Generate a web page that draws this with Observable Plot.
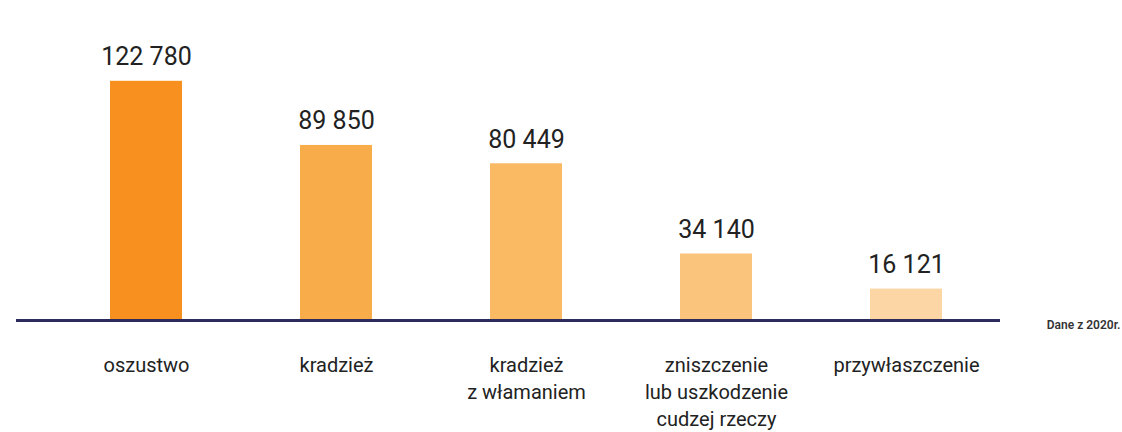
<!DOCTYPE html>
<html>
<head>
<meta charset="utf-8">
<script src="https://cdn.jsdelivr.net/npm/d3@7"></script>
<script src="https://cdn.jsdelivr.net/npm/@observablehq/plot@0.6"></script>
<style>
  html, body { margin: 0; padding: 0; background: #fff; }
  #chart svg { display: block; }
</style>
</head>
<body>
<div id="chart"></div>
<script>
const categories = ["oszustwo", "kradzież", "kradzież\nz włamaniem", "zniszczenie\nlub uszkodzenie\ncudzej rzeczy", "przywłaszczenie"];
const values = [122780, 89850, 80449, 34140, 16121];
const colors = ["#F7901E", "#F9AC4A", "#FAB963", "#FBC47D", "#FCD6A4"];
const note = "Dane z 2020r.";

const data = categories.map((c, i) => ({category: c, value: values[i], color: colors[i]}));
const fmt = v => d3.format(",")(v).replace(/,/g, " ");
const font = "Roboto, 'Open Sans', sans-serif";

const chart = Plot.plot({
  width: 1122,
  height: 432,
  marginTop: 57,
  marginBottom: 112,
  marginLeft: 16,
  marginRight: 122,
  style: {fontFamily: font, background: "#fff", overflow: "visible"},
  x: {domain: categories, range: [49.75, 1002.25], paddingInner: 0.622, paddingOuter: 0.311, axis: null},
  y: {domain: [0, 135000], axis: null},
  marks: [
    Plot.barY(data, {x: "category", y: "value", fill: "color"}),
    Plot.ruleY([0], {stroke: "#2D2B5B", strokeWidth: 3}),
    Plot.text(data, {x: "category", y: "value", text: d => fmt(d.value), dy: -24, fontSize: 25, fill: "#222", lineAnchor: "middle"}),
    Plot.text(data, {x: "category", y: () => 0, text: "category", dy: 32, fontSize: 20, fill: "#222", lineAnchor: "top", lineHeight: 1.35}),
    Plot.text([note], {frameAnchor: "bottom-right", text: d => d, dx: 120, dy: 5, textAnchor: "end", fontSize: 12, fontWeight: 600, fill: "#333", lineAnchor: "middle"})
  ]
});
document.getElementById("chart").appendChild(chart);
</script>
</body>
</html>
